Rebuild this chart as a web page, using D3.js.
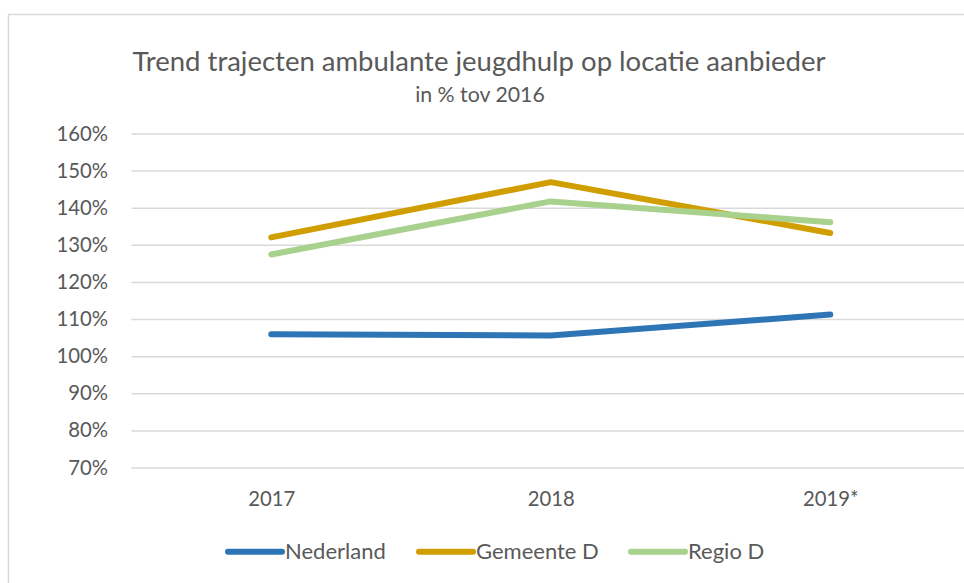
<!DOCTYPE html>
<html>
<head>
<meta charset="utf-8">
<script src="https://cdn.jsdelivr.net/npm/d3@7"></script>
<style>
  html, body { margin: 0; padding: 0; background: #fff; }
  svg { display: block; }
  text { font-family: Lato, "Open Sans", sans-serif; fill: #595959; font-weight: 400; }
</style>
</head>
<body>
<svg id="chart" width="964" height="583"></svg>
<script>
const categories = ["2017", "2018", "2019*"];
const nederland = [105.9, 105.6, 111.2];
const gemeenteD = [132.0, 146.9, 133.2];
const regioD = [127.4, 141.7, 136.1];
const yTicks = [70, 80, 90, 100, 110, 120, 130, 140, 150, 160];
const seriesNames = ["Nederland", "Gemeente D", "Regio D"];
const seriesColors = ["#2E75B6", "#D09E00", "#A9D18E"];

const series = [nederland, gemeenteD, regioD].map((vals, i) => ({
  name: seriesNames[i], color: seriesColors[i], values: vals
}));

const svg = d3.select("#chart");

// outer chart border
svg.append("rect")
  .attr("x", 8.5).attr("y", 14.5)
  .attr("width", 1000).attr("height", 700)
  .attr("fill", "#fff")
  .attr("stroke", "#D9D9D9").attr("stroke-width", 1.5);

const x = d3.scalePoint().domain(categories).range([131.5, 970]).padding(0.5);
const y = d3.scaleLinear().domain([70, 160]).range([467.5, 133.5]);

// gridlines
svg.append("g")
  .attr("transform", "translate(131.5,0)")
  .call(d3.axisLeft(y).tickValues(yTicks).tickSize(-840).tickFormat(""))
  .call(g => g.select(".domain").remove())
  .call(g => g.selectAll("line").attr("stroke", "#D9D9D9").attr("stroke-width", 1.5));

// y labels
svg.append("g")
  .attr("transform", "translate(108,0)")
  .call(d3.axisLeft(y).tickValues(yTicks).tickSize(0).tickPadding(0).tickFormat(d => d + "%"))
  .call(g => g.select(".domain").remove())
  .call(g => g.selectAll("text")
    .attr("font-size", 20.3).attr("fill", "#595959")
    .style("font-family", "Lato, 'Open Sans', sans-serif"));

// x labels
svg.append("g")
  .attr("transform", "translate(0,467.5)")
  .call(d3.axisBottom(x).tickSize(0).tickPadding(0))
  .call(g => g.select(".domain").remove())
  .call(g => g.selectAll("text")
    .attr("y", 38.5).attr("dy", null)
    .attr("font-size", 20.3).attr("fill", "#595959")
    .style("font-family", "Lato, 'Open Sans', sans-serif"));

// lines
const line = d3.line()
  .x((d, i) => x(categories[i]))
  .y(d => y(d));

svg.append("g").selectAll("path")
  .data(series)
  .join("path")
  .attr("d", d => line(d.values))
  .attr("fill", "none")
  .attr("stroke", d => d.color)
  .attr("stroke-width", 6)
  .attr("stroke-linecap", "round")
  .attr("stroke-linejoin", "round");

// title
svg.append("text")
  .attr("x", 479).attr("y", 71)
  .attr("text-anchor", "middle")
  .attr("font-size", 27.5)
  .text("Trend trajecten ambulante jeugdhulp op locatie aanbieder");

svg.append("text")
  .attr("x", 480).attr("y", 101.5)
  .attr("text-anchor", "middle")
  .attr("font-size", 21.3)
  .text("in % tov 2016");

// legend
const legendX = [228, 419, 631];
const lg = svg.append("g").selectAll("g")
  .data(series)
  .join("g")
  .attr("transform", (d, i) => `translate(${legendX[i]},551.7)`);
lg.append("line")
  .attr("x1", 0).attr("x2", 54)
  .attr("stroke", d => d.color)
  .attr("stroke-width", 6)
  .attr("stroke-linecap", "round");
lg.append("text")
  .attr("x", 57).attr("y", 7.5)
  .attr("font-size", 22)
  .text(d => d.name);
</script>
</body>
</html>
